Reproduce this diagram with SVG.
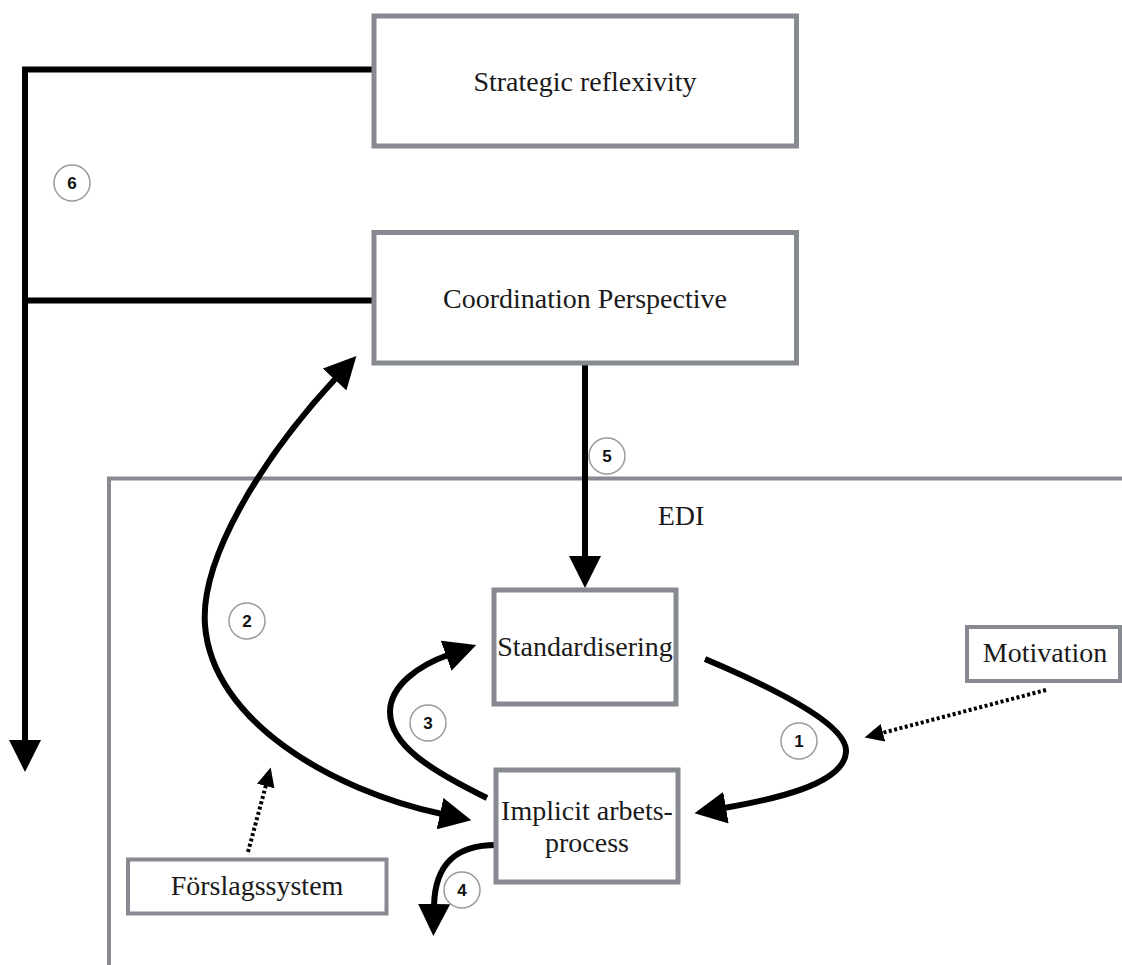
<svg xmlns="http://www.w3.org/2000/svg" width="1122" height="965" viewBox="0 0 1122 965">
<style>
.box{fill:#fff;stroke:#878a90;stroke-width:5}
.sbox{fill:#fff;stroke:#878a90;stroke-width:4}
.frame{fill:none;stroke:#878a90;stroke-width:4}
.lbl{font-family:"Liberation Serif","Times New Roman",serif;font-size:28px;fill:#1a1a1a;text-anchor:middle}
.line{fill:none;stroke:#000;stroke-width:6}
.dot{fill:none;stroke:#000;stroke-width:4;stroke-dasharray:3 2.5}
.num circle{fill:#fff;stroke:#9a9a9a;stroke-width:1.5}
.num text{font-family:"Liberation Sans",Arial,sans-serif;font-weight:bold;font-size:17px;fill:#111;text-anchor:middle}
</style>
<defs>
<marker id="ah" markerUnits="userSpaceOnUse" markerWidth="34" markerHeight="32" viewBox="0 0 34 32" refX="2" refY="16" orient="auto-start-reverse">
<path d="M0,0 L32,16 L0,32 z" fill="#000"/>
</marker>
<marker id="ahs" markerUnits="userSpaceOnUse" markerWidth="20" markerHeight="18" viewBox="0 0 20 18" refX="1" refY="9" orient="auto">
<path d="M0,0 L19,9 L0,18 z" fill="#000"/>
</marker>
</defs>
<g id="edi-frame">
<path class="frame" d="M109 965 L109 478.5 L1122 478.5"/>
<text class="lbl" x="681" y="525">EDI</text>
</g>
<g id="connectors">
<path class="line" d="M374 69.5 L25 69.5 L25 742" marker-end="url(#ah)"/>
<path class="line" d="M374 300.5 L25 300.5"/>
<path class="line" d="M585 365 L585 558" marker-end="url(#ah)"/>
<path class="line" d="M336 378 C260 460 200 560 205 625 C212 720 330 790 442 814" marker-start="url(#ah)" marker-end="url(#ah)"/>
<path class="line" d="M705 659 C790 695 848 728 846 752 C844 785 770 800 724 808" marker-end="url(#ah)"/>
<path class="line" d="M487 798 C430 770 390 745 390 712 C390 685 420 665 448 655" marker-end="url(#ah)"/>
<path class="line" d="M496 845 C460 845 435 860 434 906" marker-end="url(#ah)"/>
<path class="dot" d="M1046 690 L882 733" marker-end="url(#ahs)"/>
<path class="dot" d="M248 852 L266 785" marker-end="url(#ahs)"/>
</g>
<g id="strategic-reflexivity">
<rect class="box" x="374" y="16" width="422.5" height="130"/>
<text class="lbl" x="585" y="91">Strategic reflexivity</text>
</g>
<g id="coordination-perspective">
<rect class="box" x="374" y="232.5" width="422.5" height="130.5"/>
<text class="lbl" x="585" y="308">Coordination Perspective</text>
</g>
<g id="standardisering">
<rect class="box" x="494" y="590" width="182" height="114"/>
<text class="lbl" x="585" y="656">Standardisering</text>
</g>
<g id="implicit-arbetsprocess">
<rect class="box" x="496" y="770" width="182" height="112"/>
<text class="lbl" x="587" y="820">Implicit arbets-</text>
<text class="lbl" x="587" y="852">process</text>
</g>
<g id="motivation">
<rect class="sbox" x="967" y="627" width="153" height="54"/>
<text class="lbl" x="1045" y="662">Motivation</text>
</g>
<g id="forslagssystem">
<rect class="sbox" x="128" y="859.5" width="258.5" height="54"/>
<text class="lbl" x="257" y="895">Förslagssystem</text>
</g>
<g id="badges">
<g class="num"><circle cx="799" cy="741" r="18"/><text x="799" y="747">1</text></g>
<g class="num"><circle cx="247" cy="621" r="18"/><text x="247" y="627">2</text></g>
<g class="num"><circle cx="428" cy="723" r="18"/><text x="428" y="729">3</text></g>
<g class="num"><circle cx="462" cy="890" r="18"/><text x="462" y="896">4</text></g>
<g class="num"><circle cx="607" cy="456" r="18"/><text x="607" y="462">5</text></g>
<g class="num"><circle cx="72" cy="183" r="18"/><text x="72" y="189">6</text></g>
</g>
</svg>
